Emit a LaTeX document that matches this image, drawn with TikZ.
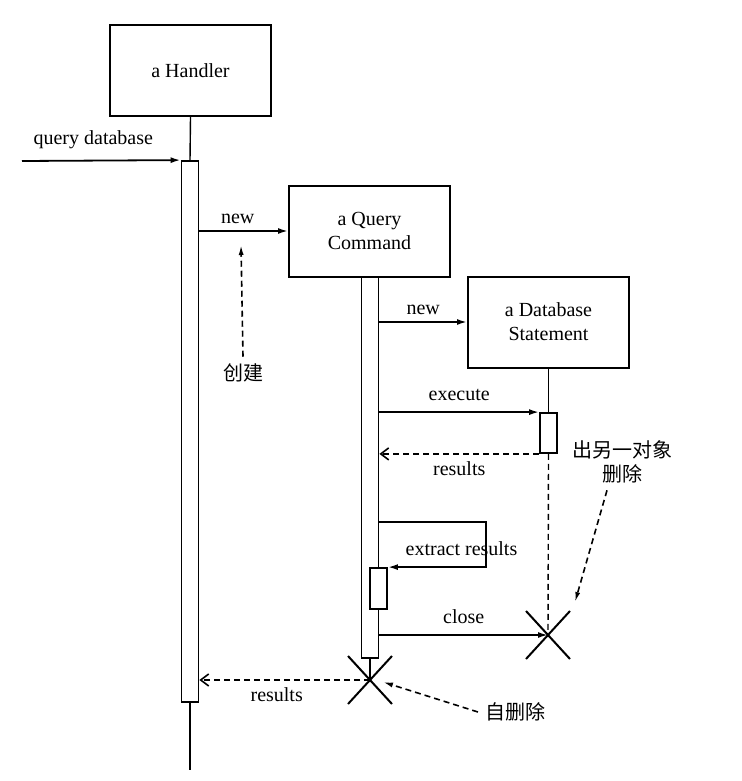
\documentclass[tikz,border=0pt]{standalone}
\usepackage{fontspec}
\setmainfont{Liberation Serif}
\newfontfamily\cjk{Noto Sans CJK SC}
\usetikzlibrary{shapes, shapes.misc, arrows.meta, positioning}

\tikzset{
  objbox/.style={draw, rectangle, line width=1pt, minimum width=80.5pt, minimum height=45.5pt, align=center},
  actbar/.style={draw, rectangle, line width=0.9pt, fill=white, minimum width=8.5pt, inner sep=0pt},
  killmark/.style={draw, cross out, line width=1pt, minimum width=21pt, minimum height=23pt, inner sep=0pt},
  call/.style={line width=0.9pt, -{Latex[length=5pt,width=3pt]}},
  reply/.style={line width=0.8pt, dash pattern=on 3pt off 2pt, -{Straight Barb[length=4pt,width=6pt]}},
  note/.style={line width=0.8pt, dash pattern=on 3pt off 2pt, -{Latex[length=5pt,width=2.5pt]}},
  lifeline/.style={line width=0.7pt}
}

\begin{document}
\begin{tikzpicture}[x=0.5pt, y=-0.5pt, font=\fontsize{10pt}{12pt}\selectfont]
\useasboundingbox (0,0) rectangle (742,781);

% Objects
\node (handler) [objbox] at (190.5,70.5) {a Handler};
\node (query) [objbox] at (369.5,231) {a Query\\Command};
\node (dbstmt) [objbox] at (548.5,322) {a Database\\Statement};

% Activation bars
\node (hbar) [actbar, minimum height=270.5pt] at (190,431.5) {};
\node (qbar) [actbar, minimum height=190.5pt] at (370,467.5) {};
\node (dbbar) [actbar, minimum height=20pt] at (548.5,433) {};
\node (exbar) [actbar, minimum height=20.5pt] at (378.5,588.5) {};

% Deletion marks
\node (dbx) [killmark] at (548,635) {};
\node (qx) [killmark] at (370,680) {};

% Notes
\node (create) at (243,373) {\cjk 创建};
\node (byother) [align=center] at (622,462) {\cjk 出另一对象\\\cjk 删除};
\node (selfdel) at (515,712) {\cjk 自删除};

% Coordinates
\coordinate (qstart) at (22,161);
\coordinate (hend) at (190,770);
\coordinate (createtip) at (241,245);
\coordinate (selfcall) at (486,522);
\coordinate (byothertip) at (575,602);
\coordinate (selfdeltip) at (383,682);

% Lifelines
\draw[lifeline] (handler.south) -- (hbar.north);
\draw[lifeline] (hbar.south) -- (hend);
\draw[lifeline] (dbstmt.south) -- (dbbar.north);
\draw[lifeline, dash pattern=on 3pt off 2pt] (dbbar.south) -- (dbx.center);
\draw[lifeline] (qbar.south) -- (qx.center);

% Messages
\draw[call] (qstart) -- (hbar.north west) node[midway, above, xshift=-4pt, yshift=2pt] {query database};
\draw[call] (hbar.east |- query.west) -- (query.west) node[midway, above, xshift=-3pt] {new};
\draw[call] (qbar.east |- dbstmt.west) -- (dbstmt.west) node[midway, above] {new};
\draw[call] (qbar.east |- dbbar.north) -- (dbbar.north west) node[midway, above, yshift=2pt] {execute};
\draw[reply] (dbbar.south west) -- (qbar.east |- dbbar.south) node[midway, below] {results};
\draw[call] (qbar.east |- selfcall) -- (selfcall) -- (selfcall |- exbar.north) -- (exbar.north east) node[pos=0.25, above, yshift=2pt] {extract results};
\draw[call] (qbar.east |- dbx) -- (dbx.center) node[midway, above, yshift=2pt] {close};
\draw[reply] (qx.center) -- (hbar.east |- qx) node[midway, below, xshift=-4pt] {results};

% Note arrows
\draw[note] (create.north) -- (createtip);
\draw[note] ([xshift=-7.5pt]byother.south) -- (byothertip);
\draw[note] (selfdel.west) -- (selfdeltip);

\end{tikzpicture}
\end{document}
